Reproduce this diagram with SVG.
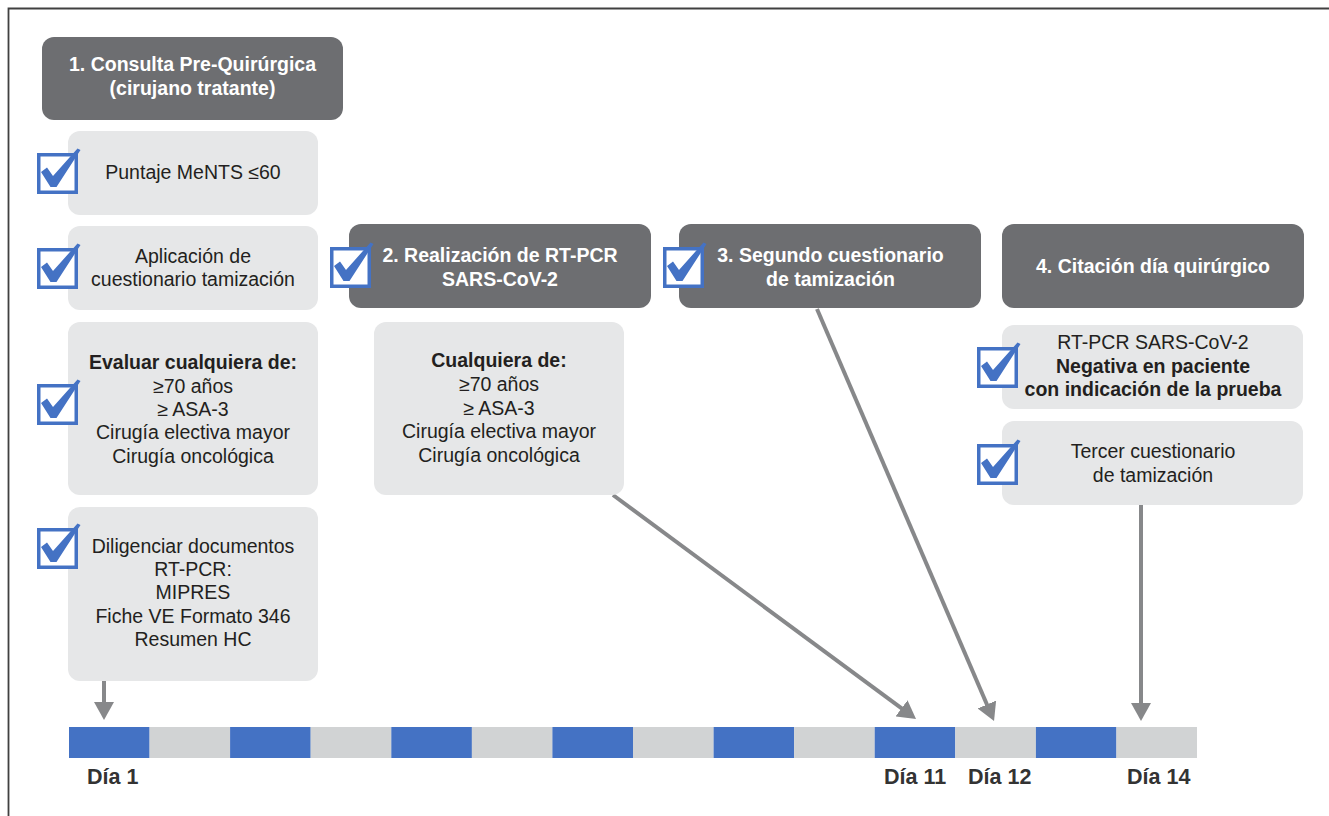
<svg xmlns="http://www.w3.org/2000/svg" xmlns:xlink="http://www.w3.org/1999/xlink" width="1329" height="816" viewBox="0 0 1329 816">
<style>
.hdr{fill:#6d6e71}
.box{fill:#e6e7e8}
.ht{font-family:"Liberation Sans",Arial,sans-serif;font-size:19.5px;font-weight:bold;fill:#ffffff;text-anchor:middle}
.t{font-family:"Liberation Sans",Arial,sans-serif;font-size:19.5px;fill:#231f20;text-anchor:middle}
.b{font-weight:bold}
.day{font-family:"Liberation Sans",Arial,sans-serif;font-size:21.5px;font-weight:bold;fill:#333333}
.tb{fill:#4472c4}
.tg{fill:#d1d3d4}
.conn{stroke:#87888a;stroke-width:4;fill:none;marker-end:url(#ah)}
</style>
<defs>
<marker id="ah" markerUnits="userSpaceOnUse" markerWidth="18" markerHeight="20" refX="6" refY="10" orient="auto">
<path d="M0,0 L18,10 L0,20 Z" fill="#87888a"/>
</marker>
<g id="chk">
<rect x="1.75" y="1.75" width="37.5" height="37.5" fill="#ffffff" stroke="#4472c4" stroke-width="3.5"/>
<polygon points="4,19 10,14.5 16,23 40.5,-4.5 43.5,-3 19.5,34 13.5,34" fill="#4472c4"/>
</g>
</defs>
<rect x="0" y="0" width="1329" height="816" fill="#ffffff"/>
<path d="M8.5,830 V8.5 H1340" fill="none" stroke="#404040" stroke-width="1.8"/>

<g id="connectors">
<line class="conn" x1="104" y1="681" x2="104" y2="708"/>
<line class="conn" x1="613" y1="495" x2="906.4" y2="711.9"/>
<line class="conn" x1="817" y1="309" x2="989.3" y2="710"/>
<line class="conn" x1="1141" y1="505" x2="1141" y2="709"/>
</g>

<g id="n1">
<rect class="hdr" x="42" y="37" width="301" height="83" rx="12"/>
<text class="ht" x="192.5" y="71">1. Consulta Pre-Quirúrgica</text>
<text class="ht" x="192.5" y="95">(cirujano tratante)</text>
</g>
<g id="n1a">
<rect class="box" x="68" y="131" width="250" height="84" rx="12"/>
<text class="t" x="193" y="179">Puntaje MeNTS ≤60</text>
<use xlink:href="#chk" x="37" y="153"/>
</g>
<g id="n1b">
<rect class="box" x="68" y="226" width="250" height="84" rx="12"/>
<text class="t" x="193" y="263">Aplicación de</text>
<text class="t" x="193" y="286">cuestionario tamización</text>
<use xlink:href="#chk" x="37" y="248"/>
</g>
<g id="n1c">
<rect class="box" x="68" y="322" width="250" height="173" rx="12"/>
<text class="t b" x="193" y="369">Evaluar cualquiera de:</text>
<text class="t" x="193" y="393">≥70 años</text>
<text class="t" x="193" y="416">≥ ASA-3</text>
<text class="t" x="193" y="439">Cirugía electiva mayor</text>
<text class="t" x="193" y="463">Cirugía oncológica</text>
<use xlink:href="#chk" x="37" y="384"/>
</g>
<g id="n1d">
<rect class="box" x="68" y="507" width="250" height="174" rx="12"/>
<text class="t" x="193" y="553">Diligenciar documentos</text>
<text class="t" x="193" y="576">RT-PCR:</text>
<text class="t" x="193" y="599">MIPRES</text>
<text class="t" x="193" y="623">Fiche VE Formato 346</text>
<text class="t" x="193" y="646">Resumen HC</text>
<use xlink:href="#chk" x="37" y="528"/>
</g>

<g id="n2">
<rect class="hdr" x="349" y="224" width="302" height="84" rx="12"/>
<text class="ht" x="500" y="262">2. Realización de RT-PCR</text>
<text class="ht" x="500" y="286">SARS-CoV-2</text>
<use xlink:href="#chk" x="330" y="247"/>
</g>
<g id="n2a">
<rect class="box" x="374" y="322" width="250" height="173" rx="12"/>
<text class="t b" x="499" y="367">Cualquiera de:</text>
<text class="t" x="499" y="391">≥70 años</text>
<text class="t" x="499" y="415">≥ ASA-3</text>
<text class="t" x="499" y="438">Cirugía electiva mayor</text>
<text class="t" x="499" y="462">Cirugía oncológica</text>
</g>

<g id="n3">
<rect class="hdr" x="679" y="224" width="302" height="84" rx="12"/>
<text class="ht" x="830.5" y="262">3. Segundo cuestionario</text>
<text class="ht" x="830.5" y="286">de tamización</text>
<use xlink:href="#chk" x="663" y="247"/>
</g>

<g id="n4">
<rect class="hdr" x="1002" y="224" width="302" height="84" rx="12"/>
<text class="ht" x="1153" y="273">4. Citación día quirúrgico</text>
</g>
<g id="n4a">
<rect class="box" x="1002" y="325" width="301" height="84" rx="12"/>
<text class="t" x="1153" y="349">RT-PCR SARS-CoV-2</text>
<text class="t b" x="1153" y="373">Negativa en paciente</text>
<text class="t b" x="1153" y="396">con indicación de la prueba</text>
<use xlink:href="#chk" x="977" y="347"/>
</g>
<g id="n4b">
<rect class="box" x="1002" y="421" width="301" height="84" rx="12"/>
<text class="t" x="1153" y="458">Tercer cuestionario</text>
<text class="t" x="1153" y="482">de tamización</text>
<use xlink:href="#chk" x="977" y="444"/>
</g>

<g id="timeline">
<rect class="tb" x="69" y="727" width="80.6" height="31"/>
<rect class="tg" x="149.6" y="727" width="80.6" height="31"/>
<rect class="tb" x="230.1" y="727" width="80.6" height="31"/>
<rect class="tg" x="310.7" y="727" width="80.6" height="31"/>
<rect class="tb" x="391.3" y="727" width="80.6" height="31"/>
<rect class="tg" x="471.9" y="727" width="80.6" height="31"/>
<rect class="tb" x="552.4" y="727" width="80.6" height="31"/>
<rect class="tg" x="633" y="727" width="80.6" height="31"/>
<rect class="tb" x="713.6" y="727" width="80.6" height="31"/>
<rect class="tg" x="794.1" y="727" width="80.6" height="31"/>
<rect class="tb" x="874.7" y="727" width="80.6" height="31"/>
<rect class="tg" x="955.3" y="727" width="80.6" height="31"/>
<rect class="tb" x="1035.9" y="727" width="80.6" height="31"/>
<rect class="tg" x="1116.4" y="727" width="80.6" height="31"/>
<text class="day" x="87" y="784">Día 1</text>
<text class="day" x="884" y="784">Día 11</text>
<text class="day" x="968" y="784">Día 12</text>
<text class="day" x="1127" y="784">Día 14</text>
</g>
</svg>
